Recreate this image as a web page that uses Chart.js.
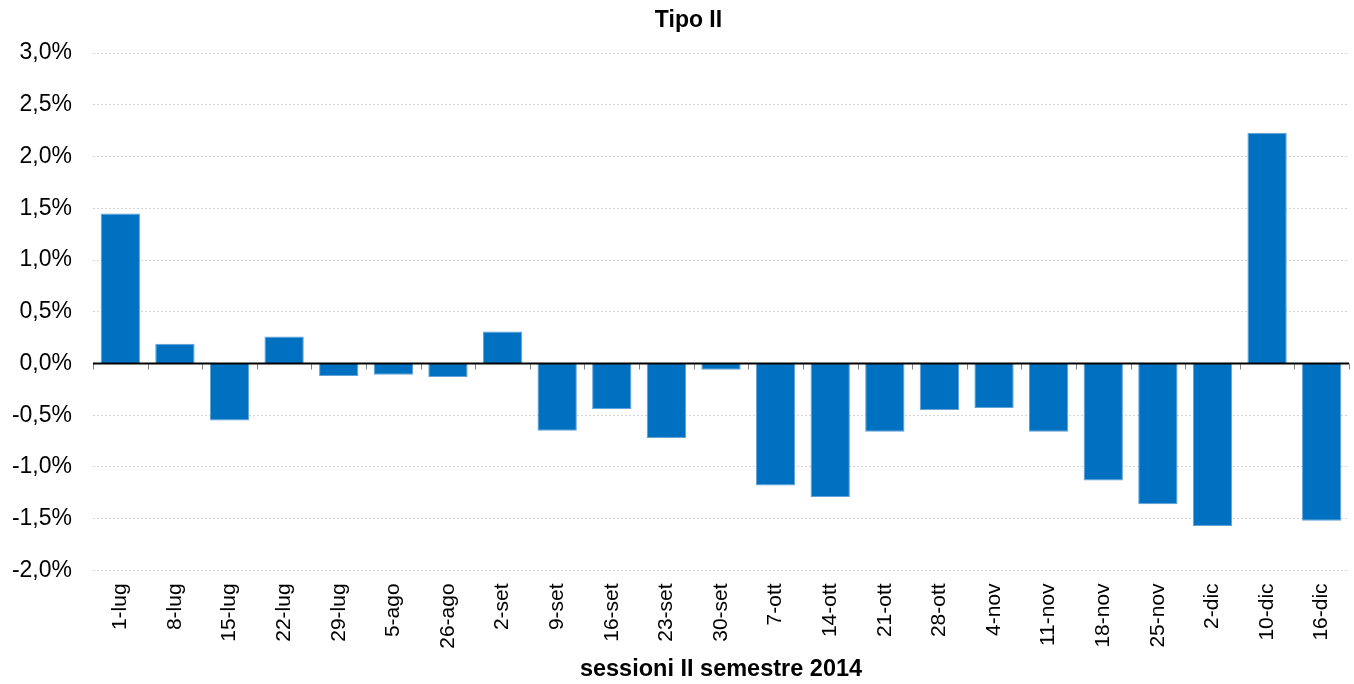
<!DOCTYPE html>
<html>
<head>
<meta charset="utf-8">
<title>Tipo II</title>
<script src="https://cdn.jsdelivr.net/npm/chart.js@4/dist/chart.umd.min.js"></script>
<style>
    body { margin: 0; background: #fff; }
    #tipoChart { display: block; }
</style>
</head>
<body>
<canvas id="tipoChart" width="1354" height="684"></canvas>
<script>
const sessioni = [
    '1-lug', '8-lug', '15-lug', '22-lug', '29-lug', '5-ago', '26-ago', '2-set',
    '9-set', '16-set', '23-set', '30-set', '7-ott', '14-ott', '21-ott', '28-ott',
    '4-nov', '11-nov', '18-nov', '25-nov', '2-dic', '10-dic', '16-dic'
];
const variazioni = [
    1.45, 0.19, -0.55, 0.26, -0.12, -0.11, -0.13, 0.31,
    -0.65, -0.44, -0.72, -0.06, -1.18, -1.29, -0.66, -0.45,
    -0.43, -0.66, -1.13, -1.36, -1.57, 2.23, -1.52
];
const yMin = -2.0;
const yMax = 3.0;
const yStep = 0.5;

const chartEl = document.querySelector('#tipoChart');
Chart.defaults.font.family = "'Liberation Sans', Arial, sans-serif";
Chart.defaults.color = '#000';

// linea dello zero con le tacche tra una sessione e l'altra
const zeroAxis = {
    id: 'zeroAxis',
    afterLayout(chart) {
        // titolo leggermente spostato verso destra
        chart.titleBlock.left += 28;
    },
    afterDatasetsDraw(chart) {
        const ctx = chart.ctx;
        const x = chart.scales.x;
        const y0 = chart.scales.y.getPixelForValue(0);
        const area = chart.chartArea;
        ctx.save();
        ctx.strokeStyle = '#808080';
        ctx.lineWidth = 1;
        for (let i = 0; i <= sessioni.length; i++) {
            let px;
            if (i === 0) px = area.left;
            else if (i === sessioni.length) px = area.right;
            else px = (x.getPixelForValue(i - 1) + x.getPixelForValue(i)) / 2;
            px = Math.round(px) + 0.5;
            ctx.beginPath();
            ctx.moveTo(px, y0);
            ctx.lineTo(px, y0 + 6);
            ctx.stroke();
        }
        ctx.strokeStyle = '#000';
        ctx.lineWidth = 2;
        ctx.beginPath();
        ctx.moveTo(area.left, y0);
        ctx.lineTo(area.right, y0);
        ctx.stroke();
        ctx.restore();
    }
};

new Chart(chartEl, {
    type: 'bar',
    data: {
        labels: sessioni,
        datasets: [{
            data: variazioni,
            backgroundColor: '#0070c0',
            borderColor: '#62a0d8',
            borderWidth: 1,
            categoryPercentage: 0.72,
            barPercentage: 1
        }]
    },
    options: {
        responsive: false,
        animation: false,
        layout: {
            padding: { left: 0, right: 5, top: 0, bottom: 0 }
        },
        plugins: {
            legend: { display: false },
            tooltip: { enabled: false },
            title: {
                display: true,
                text: 'Tipo II',
                font: { size: 23, weight: 'bold' },
                padding: { top: 7, bottom: 18.5 }
            }
        },
        scales: {
            x: {
                grid: { display: false },
                border: { display: false },
                ticks: {
                    minRotation: 90,
                    maxRotation: 90,
                    autoSkip: false,
                    padding: 5,
                    font: { size: 21 }
                },
                title: {
                    display: true,
                    text: 'sessioni II semestre 2014',
                    font: { size: 23.5, weight: 'bold' },
                    padding: { top: 2, bottom: 0 }
                }
            },
            y: {
                min: yMin,
                max: yMax,
                afterFit(scale) {
                    scale.width = 93;
                },
                grid: {
                    color: '#d4d4d4',
                    drawTicks: false
                },
                border: { display: false, dash: [2, 2] },
                ticks: {
                    stepSize: yStep,
                    padding: 21,
                    font: { size: 23 },
                    callback: function (value) {
                        return value.toFixed(1).replace('.', ',') + '%';
                    }
                }
            }
        }
    },
    plugins: [zeroAxis]
});
</script>
</body>
</html>
